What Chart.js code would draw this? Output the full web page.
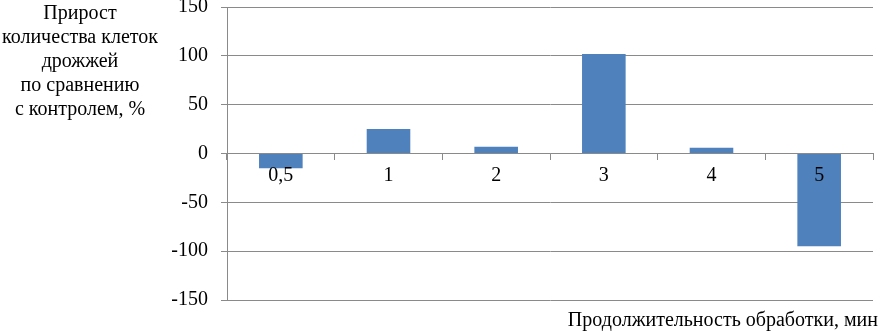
<!DOCTYPE html>
<html>
<head>
<meta charset="utf-8">
<script src="https://cdn.jsdelivr.net/npm/chart.js@4"></script>
<style>
  html, body { margin: 0; padding: 0; background: #fff; }
  #wrap { position: relative; width: 887px; height: 331px; }
</style>
</head>
<body>
<div id="wrap"><canvas id="c" width="887" height="331"></canvas></div>
<script>
const categories = ['0,5', '1', '2', '3', '4', '5'];
const growthValues = [-15, 25, 7, 102, 6, -95];
const yTicks = [-150, -100, -50, 0, 50, 100, 150];
const yTitleLines = ['Прирост', 'количества клеток', 'дрожжей', 'по сравнению', 'с контролем, %'];
const xTitle = 'Продолжительность обработки, мин';

const FONT = "'Liberation Serif', 'Times New Roman', serif";
const GRID = '#8a8a8a';

const titlesPlugin = {
  id: 'titles',
  afterDraw(chart) {
    const ctx = chart.ctx;
    ctx.save();
    ctx.fillStyle = '#000';
    ctx.font = '20px ' + FONT;
    ctx.textAlign = 'center';
    ctx.textBaseline = 'middle';
    yTitleLines.forEach((t, i) => ctx.fillText(t, 80, 14 + i * 24));
    ctx.textAlign = 'right';
    ctx.textBaseline = 'alphabetic';
    ctx.fillText(xTitle, 878, 326);
    ctx.restore();
  }
};

new Chart(document.getElementById('c'), {
  type: 'bar',
  data: {
    labels: categories,
    datasets: [{
      data: growthValues,
      backgroundColor: '#4F81BD',
      borderWidth: 0,
      barPercentage: 0.405,
      categoryPercentage: 1
    }]
  },
  options: {
    responsive: false,
    animation: false,
    devicePixelRatio: 1,
    layout: { padding: { left: 0, right: 14, top: 0, bottom: 31 } },
    plugins: { legend: { display: false }, tooltip: { enabled: false } },
    scales: {
      x: {
        position: { y: 0 },
        afterFit(scale) { scale.height = 0; scale.paddingLeft = 0; scale.paddingRight = 0; },
        grid: { display: true, drawOnChartArea: false, drawTicks: true, tickLength: 6, offset: true, color: GRID },
        border: { display: true, color: GRID },
        ticks: { z: 1, color: '#000', font: { family: FONT, size: 20 }, padding: 4, maxRotation: 0, autoSkip: false }
      },
      y: {
        min: -150, max: 150,
        afterFit(scale) { scale.width = 227; scale.paddingTop = 7; scale.paddingBottom = 0; },
        afterBuildTicks(scale) { scale.ticks = yTicks.map(v => ({ value: v })); },
        grid: { color: GRID, tickLength: 6, drawTicks: true },
        border: { display: true, color: GRID },
        ticks: { color: '#000', font: { family: FONT, size: 20 }, padding: 13 }
      }
    }
  },
  plugins: [titlesPlugin]
});
</script>
</body>
</html>
